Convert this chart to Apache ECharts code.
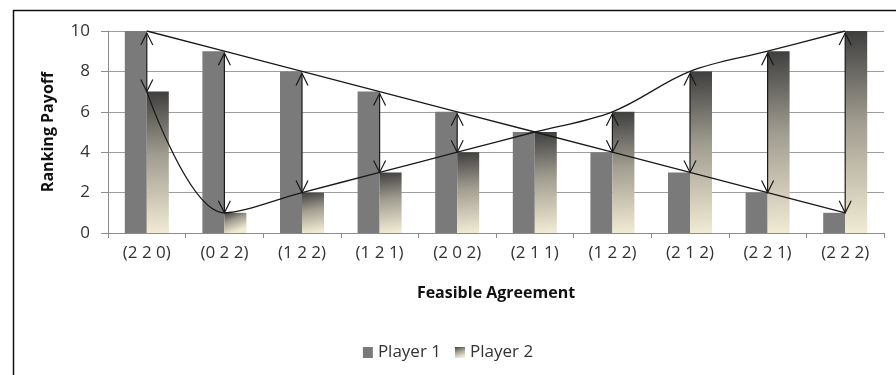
<!DOCTYPE html>
<html>
<head>
<meta charset="utf-8">
<script src="https://cdn.jsdelivr.net/npm/echarts@6/dist/echarts.min.js"></script>
<style>
html,body{margin:0;padding:0;background:#fff;}
#chart{width:896px;height:375px;}
</style>
</head>
<body>
<div id="chart"></div>
<script>
// ---- data ----
var categories = ['(2 2 0)', '(0 2 2)', '(1 2 2)', '(1 2 1)', '(2 0 2)', '(2 1 1)', '(1 2 2)', '(2 1 2)', '(2 2 1)', '(2 2 2)'];
var player1 = [10, 9, 8, 7, 6, 5, 4, 3, 2, 1];
var player2 = [7, 1, 2, 3, 4, 5, 6, 8, 9, 10];
var yMin = 0, yMax = 10, yStep = 2;
var xTitle = 'Feasible Agreement';
var yTitle = 'Ranking Payoff';
var seriesNames = ['Player 1', 'Player 2'];

var FONT = '"Open Sans", Lato, sans-serif';
var p2Gradient = new echarts.graphic.LinearGradient(0, 0, 0.35, 1, [
  {offset: 0, color: '#3e3e3e'},
  {offset: 0.45, color: '#a09c8f'},
  {offset: 1, color: '#f1ebd4'}
]);

var arrowData = categories.map(function (c, i) { return [i, player1[i], player2[i]]; });

function renderArrow(params, api) {
  var i = api.value(0), a = api.value(1), b = api.value(2);
  if (a === b) return;
  var p1 = api.coord([i, a]), p2 = api.coord([i, b]);
  var x = p1[0];
  var top = Math.min(p1[1], p2[1]) + 2, bot = Math.max(p1[1], p2[1]);
  var hw = 6, hl = 12;
  var st = {stroke: '#1a1a1a', lineWidth: 1.2, fill: null};
  return {
    type: 'group',
    children: [
      {type: 'line', shape: {x1: x, y1: top, x2: x, y2: bot}, style: st},
      {type: 'polyline', shape: {points: [[x - hw, top + hl], [x, top], [x + hw, top + hl]]}, style: st},
      {type: 'polyline', shape: {points: [[x - hw, bot - hl], [x, bot], [x + hw, bot - hl]]}, style: st}
    ]
  };
}

var chart = echarts.init(document.getElementById('chart'), null, {renderer: 'canvas'});
chart.setOption({
  animation: false,
  backgroundColor: '#fff',
  textStyle: {fontFamily: FONT},
  graphic: [{
    type: 'rect', left: 11, top: 8, silent: true, z: -10,
    shape: {width: 900, height: 400},
    style: {fill: null, stroke: '#111', lineWidth: 1.5}
  }],
  grid: {left: 108, right: 12, top: 31, bottom: 142, containLabel: false},
  legend: {
    data: [
      {name: seriesNames[0], itemStyle: {color: '#7a7a7a'}},
      {name: seriesNames[1], itemStyle: {color: p2Gradient}}
    ],
    left: 'center', top: 339,
    icon: 'rect', itemWidth: 10, itemHeight: 11, itemGap: 14,
    textStyle: {fontFamily: FONT, fontSize: 17, color: '#333'}
  },
  xAxis: {
    type: 'category',
    data: categories,
    name: xTitle,
    nameLocation: 'middle',
    nameGap: 52,
    nameTextStyle: {fontFamily: FONT, fontSize: 16, fontWeight: 'bold', color: '#111'},
    axisLine: {show: true, lineStyle: {color: '#8c8c8c', width: 1}},
    axisTick: {show: true, length: 5, alignWithLabel: false, lineStyle: {color: '#8c8c8c'}},
    axisLabel: {fontFamily: FONT, fontSize: 17, color: '#333', margin: 12, interval: 0},
    splitLine: {show: false}
  },
  yAxis: {
    type: 'value',
    min: yMin, max: yMax, interval: yStep,
    name: yTitle,
    nameLocation: 'middle',
    nameGap: 52,
    nameRotate: 90,
    nameTextStyle: {fontFamily: FONT, fontSize: 16, fontWeight: 'bold', color: '#111'},
    axisLine: {show: true, lineStyle: {color: '#8c8c8c', width: 1}},
    axisTick: {show: true, length: 7, lineStyle: {color: '#8c8c8c'}},
    axisLabel: {fontFamily: FONT, fontSize: 17, color: '#333', margin: 18},
    splitLine: {show: true, lineStyle: {color: '#9e9e9e', width: 1}}
  },
  series: [
    {
      name: seriesNames[0], type: 'bar', data: player1,
      barWidth: 22, barGap: '0%',
      itemStyle: {color: '#7a7a7a'}, z: 2
    },
    {
      name: seriesNames[1], type: 'bar', data: player2,
      barWidth: 22, barGap: '0%',
      itemStyle: {color: p2Gradient}, z: 2
    },
    {
      name: 'p1line', type: 'line', data: player1, showSymbol: false, symbol: 'none',
      lineStyle: {color: '#1a1a1a', width: 1.3}, z: 5, silent: true
    },
    {
      name: 'p2line', type: 'line', data: player2, showSymbol: false, symbol: 'none', smooth: 0.35,
      lineStyle: {color: '#1a1a1a', width: 1.3}, z: 5, silent: true
    },
    {
      name: 'arrows', type: 'custom', data: arrowData, renderItem: renderArrow,
      encode: {x: 0, y: [1, 2]}, z: 6, silent: true
    }
  ]
});
</script>
</body>
</html>
